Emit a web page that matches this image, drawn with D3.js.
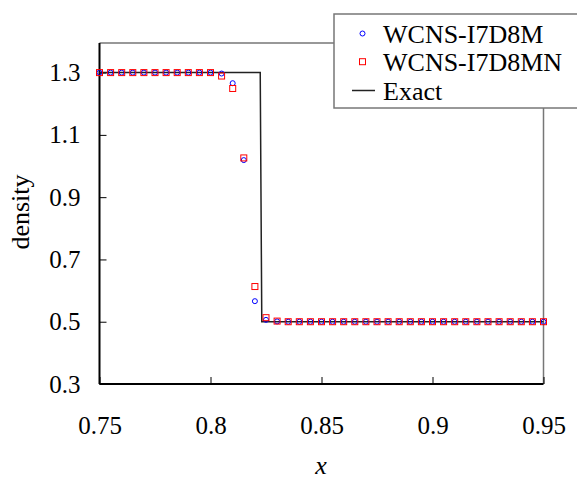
<!DOCTYPE html>
<html>
<head>
<meta charset="utf-8">
<script src="https://cdn.jsdelivr.net/npm/d3@7"></script>
<style>
  body { margin: 0; background: #fff; }
  svg text { font-family: "Liberation Serif", "Times New Roman", serif; fill: #000; }
</style>
</head>
<body>
<div id="chart"></div>
<script>
// sample positions (0.75 .. 0.95 step 0.005)
const xs = [0.75, 0.755, 0.76, 0.765, 0.77, 0.775, 0.78, 0.785, 0.79, 0.795, 0.8,
            0.805, 0.81, 0.815, 0.82, 0.825, 0.83, 0.835, 0.84, 0.845, 0.85,
            0.855, 0.86, 0.865, 0.87, 0.875, 0.88, 0.885, 0.89, 0.895, 0.9,
            0.905, 0.91, 0.915, 0.92, 0.925, 0.93, 0.935, 0.94, 0.945, 0.95];

const i7d8m = [1.3, 1.3, 1.3, 1.3, 1.3, 1.3, 1.3, 1.3, 1.3, 1.3, 1.3,
               1.297, 1.266, 1.019, 0.566, 0.506, 0.501, 0.5, 0.5, 0.5, 0.5,
               0.5, 0.5, 0.5, 0.5, 0.5, 0.5, 0.5, 0.5, 0.5, 0.5,
               0.5, 0.5, 0.5, 0.5, 0.5, 0.5, 0.5, 0.5, 0.5, 0.5];

const i7d8mn = [1.3, 1.3, 1.3, 1.3, 1.3, 1.3, 1.3, 1.3, 1.3, 1.3, 1.3,
                1.289, 1.249, 1.026, 0.613, 0.513, 0.502, 0.5, 0.5, 0.5, 0.5,
                0.5, 0.5, 0.5, 0.5, 0.5, 0.5, 0.5, 0.5, 0.5, 0.5,
                0.5, 0.5, 0.5, 0.5, 0.5, 0.5, 0.5, 0.5, 0.5, 0.5];

const exactX = [0.75, 0.8224, 0.8231, 0.95];
const exactY = [1.3, 1.3, 0.5, 0.5];

const xTicks = [0.75, 0.8, 0.85, 0.9, 0.95];
const yTicks = [0.3, 0.5, 0.7, 0.9, 1.1, 1.3];

const W = 577, H = 480;
const svg = d3.select("#chart").append("svg")
    .attr("width", W)
    .attr("height", H);

const x = d3.scaleLinear().domain([0.75, 0.95]).range([99.5, 543.5]);
const y = d3.scaleLinear().domain([0.3, 1.3]).range([384, 72.6]);
const yTop = 43;

// frame top + right (gray)
svg.append("path")
    .attr("d", `M${x(0.75)},${yTop}H${x(0.95)}V${y(0.3)}`)
    .attr("fill", "none")
    .attr("stroke", "#777")
    .attr("stroke-width", 1.5);

// axes
const xAxis = svg.append("g")
    .attr("transform", `translate(0,${y(0.3)})`)
    .call(d3.axisBottom(x).tickValues(xTicks).tickSize(-7).tickPadding(32)
        .tickFormat(d => String(d)));
const yAxis = svg.append("g")
    .attr("transform", `translate(${x(0.75)},0)`)
    .call(d3.axisLeft(y).tickValues(yTicks).tickSize(-7).tickPadding(19)
        .tickFormat(d => d.toFixed(1)));

[xAxis, yAxis].forEach(g => {
    g.select(".domain").attr("stroke", "#000").attr("stroke-width", 2);
    g.selectAll(".tick line").attr("stroke", "#000").attr("stroke-width", 1);
    g.selectAll(".tick text").attr("font-size", 25)
        .attr("font-family", "Liberation Serif");
});
// the domain path end caps are outer ticks; remove them
xAxis.select(".domain").attr("d", `M${x(0.75)},0H${x(0.95)}`);
yAxis.select(".domain").attr("d", `M0,${y(0.3)}V${yTop}`);

// exact solution
const line = d3.line().x(d => x(d[0])).y(d => y(d[1]));
svg.append("path")
    .datum(d3.zip(exactX, exactY))
    .attr("d", line)
    .attr("fill", "none")
    .attr("stroke", "#222")
    .attr("stroke-width", 1.5);

// WCNS-I7D8M circles
svg.append("g").selectAll("circle")
    .data(d3.zip(xs, i7d8m))
    .join("circle")
    .attr("cx", d => x(d[0]))
    .attr("cy", d => y(d[1]))
    .attr("r", 2.5)
    .attr("fill", "none")
    .attr("stroke", "#0000ff")
    .attr("stroke-width", 1);

// WCNS-I7D8MN squares
const s = 6;
svg.append("g").selectAll("rect")
    .data(d3.zip(xs, i7d8mn))
    .join("rect")
    .attr("x", d => x(d[0]) - s / 2)
    .attr("y", d => y(d[1]) - s / 2)
    .attr("width", s)
    .attr("height", s)
    .attr("fill", "none")
    .attr("stroke", "#ff0000")
    .attr("stroke-width", 1);

// axis titles
svg.append("text")
    .attr("x", 321)
    .attr("y", 474)
    .attr("text-anchor", "middle")
    .attr("font-size", 26)
    .attr("font-style", "italic")
    .text("x");
svg.append("text")
    .attr("transform", "translate(29,212) rotate(-90)")
    .attr("text-anchor", "middle")
    .attr("font-size", 26)
    .text("density");

// legend
const leg = svg.append("g");
leg.append("rect")
    .attr("x", 334).attr("y", 14)
    .attr("width", 300).attr("height", 94)
    .attr("fill", "#fff")
    .attr("stroke", "#777")
    .attr("stroke-width", 1.5);
leg.append("circle")
    .attr("cx", 362.5).attr("cy", 33.5).attr("r", 2.5)
    .attr("fill", "none").attr("stroke", "#0000ff");
leg.append("rect")
    .attr("x", 362.5 - s / 2).attr("y", 61.7 - s / 2)
    .attr("width", s).attr("height", s)
    .attr("fill", "none").attr("stroke", "#ff0000");
leg.append("line")
    .attr("x1", 352).attr("x2", 375)
    .attr("y1", 90.5).attr("y2", 90.5)
    .attr("stroke", "#222").attr("stroke-width", 1.5);
const labels = ["WCNS-I7D8M", "WCNS-I7D8MN", "Exact"];
leg.selectAll("text.lbl")
    .data(labels)
    .join("text")
    .attr("class", "lbl")
    .attr("x", 383)
    .attr("y", (d, i) => 43 + i * 28.4)
    .attr("font-size", 26)
    .text(d => d);
</script>
</body>
</html>
